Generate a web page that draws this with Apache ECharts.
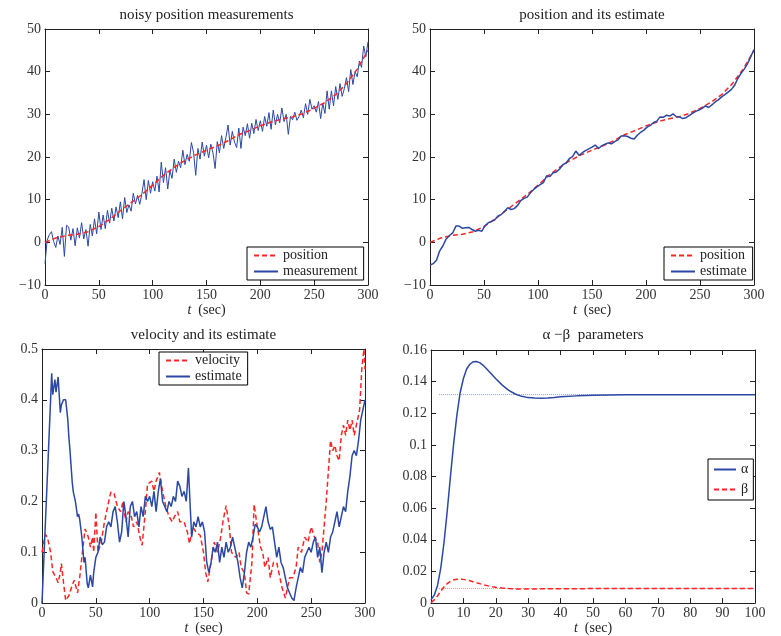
<!DOCTYPE html>
<html><head><meta charset="utf-8">
<script src="https://cdn.jsdelivr.net/npm/echarts@6/dist/echarts.min.js"></script>
<style>html,body{margin:0;padding:0;background:#fff}#c{width:781px;height:636px}</style>
</head><body><div id="c"></div>
<script>
// ---------- data ----------
const posT = [0,10,20,30,40,50,60,70,80,90,100,110,120,130,140,150,160,170,180,190,200,210,220,230,240,250,260,270,280,290,300];
const posV = [0,1.0,1.6,1.9,2.5,3.7,5.4,7.4,9.3,11.2,13.4,15.7,17.6,19.2,20.5,21.6,22.6,23.8,25.2,26.2,27.3,28.2,28.9,29.4,30.2,31.4,32.8,34.6,37.2,40.6,45];

const measT = [0,2,4,6,8,10,12,14,16,18,20,22,24,26,28,30,32,34,36,38,40,42,44,46,48,50,52,54,56,58,60,62,64,66,68,70,72,74,76,78,80,82,84,86,88,90,92,94,96,98,100,102,104,106,108,110,112,114,116,118,120,122,124,126,128,130,132,134,136,138,140,142,144,146,148,150,152,154,156,158,160,162,164,166,168,170,172,174,176,178,180,182,184,186,188,190,192,194,196,198,200,202,204,206,208,210,212,214,216,218,220,222,224,226,228,230,232,234,236,238,240,242,244,246,248,250,252,254,256,258,260,262,264,266,268,270,272,274,276,278,280,282,284,286,288,290,292,294,296,298,300];
const measV = [-5,0.5,1.8,2.5,0.2,-1.2,1.5,-0.5,3.5,-3.3,
 4.0,3.6,0.5,3.2,-0.8,3.4,1.0,4.6,0.8,3.0,
 -0.9,4.2,1.5,5.5,2.0,7.1,3.0,6.4,3.2,7.5,
 4.5,8.0,5.0,8.3,5.8,9.5,5.5,10.5,7.0,8.8,
 7.3,11.5,9.0,11.0,8.9,11.4,14.7,10.0,14.5,11.5,
 14.2,12.0,15.5,11.8,18.8,14.0,17.5,12.5,16.8,15.0,
 19.5,16.4,19.0,17.5,21.6,18.2,20.6,19.0,23.4,21.0,
 15.7,22.0,19.5,23.5,20.2,22.8,19.8,23.0,21.0,17.3,
 23.6,21.0,25.0,22.0,24.5,27.5,22.8,26.0,23.5,22.2,
 26.8,22.0,27.0,25.0,27.8,24.4,27.9,25.5,28.8,26.2,
 28.5,26.0,29.5,27.2,30.4,26.5,31.0,27.5,30.0,28.0,
 31.5,28.3,30.0,25.3,29.5,28.7,30.5,28.6,29.5,31.0,
 29.2,32.5,30.0,33.5,31.2,32.0,30.5,33.0,29.0,32.6,
 30.2,35.5,31.2,35.5,32.0,36.5,33.5,37.2,34.2,36.0,
 38.6,35.3,40.5,37.0,40.0,38.8,42.5,41.0,46.0,43.5,
 47.0];

const estT = [0,3,6,9,12,15,18,21,24,27,30,33,36,39,42,45,48,51,54,57,60,63,66,69,72,75,78,81,84,87,90,93,96,99,102,105,108,111,114,117,120,123,126,129,132,135,138,141,144,147,150,153,156,159,162,165,168,171,174,177,180,183,186,189,192,195,198,201,204,207,210,213,216,219,222,225,228,231,234,237,240,243,246,249,252,255,258,261,264,267,270,273,276,279,282,285,288,291,294,297,300];
const estV = [-5.3,-5.0,-4.2,-2.0,-0.8,0.8,1.6,2.2,3.8,3.8,
 3.3,3.4,3.5,3.0,2.6,2.8,2.6,3.9,4.6,4.9,
 5.3,6.2,6.5,7.3,8.1,7.7,7.9,8.6,9.8,10.3,
 10.6,11.6,12.4,13.0,13.5,14.0,15.6,15.4,16.3,16.5,
 17.2,18.2,18.6,19.6,20.1,21.4,20.4,21.0,21.5,21.9,
 22.3,22.8,22.0,22.6,23.0,23.3,23.1,23.6,24.0,24.9,
 25.0,24.8,24.4,24.2,25.1,25.8,26.3,27.0,27.4,28.1,
 28.4,29.4,29.3,29.8,29.6,30.1,29.5,29.4,29.0,29.2,
 29.7,30.2,30.7,31.0,31.4,32.0,31.6,32.2,32.9,33.4,
 34.1,34.6,35.2,35.8,36.8,38.4,39.6,40.6,41.9,43.5,
 45.2];

const velT = [0,3,5,8,10,13,15,17,18,20,22,25,28,30,33,35,37,40,43,45,47,48,50,52,55,58,62,64,67,70,73,75,78,80,83,85,88,92,93,96,98,102,104,106,109,112,115,118,121,123,126,128,132,135,137,140,143,147,150,152,154,157,160,163,166,168,171,174,176,180,183,185,188,190,192,195,197,200,203,205,207,210,212,215,218,220,223,226,228,230,233,236,238,241,244,247,250,253,256,258,260,262,264,266,268,270,272,274,276,278,280,282,284,286,288,290,292,295,297,299,300];
const velV = [0.1,0.135,0.13,0.1,0.062,0.05,0.04,0.06,0.078,0.04,0.005,0.015,0.035,0.045,0.02,0.05,0.09,0.146,0.13,0.11,0.13,0.1,0.179,0.1,0.12,0.16,0.2,0.219,0.215,0.19,0.18,0.198,0.16,0.18,0.17,0.15,0.16,0.12,0.114,0.18,0.234,0.24,0.22,0.24,0.257,0.22,0.19,0.17,0.16,0.17,0.18,0.16,0.16,0.14,0.117,0.15,0.14,0.133,0.1,0.06,0.042,0.08,0.12,0.1,0.13,0.16,0.192,0.15,0.1,0.09,0.1,0.07,0.06,0.02,0.018,0.08,0.194,0.15,0.11,0.1,0.07,0.09,0.05,0.08,0.08,0.06,0.03,0.01,0.03,0.05,0.05,0.07,0.11,0.1,0.13,0.12,0.15,0.13,0.12,0.08,0.1,0.15,0.2,0.26,0.32,0.3,0.31,0.29,0.28,0.33,0.35,0.33,0.36,0.34,0.36,0.33,0.35,0.38,0.46,0.5,0.46];

const vestT = [0,2,4,6,8,9,10,12,13,15,17,18,20,22,24,25,26,28,29,31,33,34,35,37,39,40,42,43,45,47,48,50,52,54,56,58,60,62,64,66,68,70,72,74,76,78,80,82,84,86,88,90,92,94,96,98,100,102,104,106,108,110,112,114,116,118,120,122,124,126,128,130,132,134,136,137,139,141,143,145,147,149,151,153,155,157,159,161,163,165,167,169,171,173,175,177,179,182,184,186,188,190,192,194,196,198,200,202,204,206,208,210,212,214,216,218,220,222,224,226,228,230,232,234,236,238,240,242,244,246,248,250,252,254,256,258,260,262,264,266,268,270,272,274,276,278,280,282,284,286,288,290,292,294,296,298,300];
const vestV = [0,0.1,0.2,0.3,0.4,0.452,0.41,0.44,0.415,0.445,0.375,0.39,0.4,0.4,0.36,0.325,0.3,0.24,0.22,0.2,0.17,0.175,0.165,0.13,0.08,0.09,0.038,0.03,0.055,0.032,0.06,0.09,0.1,0.13,0.115,0.12,0.15,0.16,0.15,0.18,0.19,0.16,0.12,0.14,0.2,0.17,0.13,0.19,0.2,0.17,0.18,0.15,0.19,0.17,0.21,0.2,0.21,0.19,0.22,0.18,0.22,0.245,0.2,0.19,0.18,0.2,0.19,0.21,0.2,0.24,0.23,0.21,0.22,0.2,0.266,0.22,0.13,0.16,0.15,0.17,0.15,0.16,0.14,0.08,0.06,0.08,0.11,0.1,0.12,0.08,0.11,0.09,0.12,0.1,0.11,0.13,0.11,0.08,0.05,0.03,0.06,0.1,0.12,0.11,0.13,0.155,0.15,0.14,0.15,0.17,0.19,0.16,0.145,0.15,0.12,0.09,0.11,0.08,0.07,0.05,0.03,0.02,0.01,0.005,0.03,0.05,0.07,0.06,0.09,0.1,0.11,0.1,0.12,0.13,0.09,0.11,0.06,0.1,0.12,0.1,0.13,0.14,0.16,0.18,0.15,0.17,0.19,0.18,0.22,0.25,0.29,0.3,0.29,0.32,0.36,0.38,0.4];

const abT = [0,1,2,3,4,5,6,7,8,9,10,11,12,13,14,15,16,17,18,19,20,22,24,26,28,30,32,34,36,38,40,45,50,55,60,70,80,90,100];
const alphaV = [0.002,0.005,0.011,0.022,0.038,0.058,0.08,0.101,0.119,0.133,0.142,0.148,0.151,0.1525,0.1527,0.152,0.1505,0.1485,0.1462,0.144,0.1418,0.1378,0.1345,0.1322,0.1307,0.1299,0.1296,0.1295,0.1297,0.13,0.1304,0.131,0.1314,0.1316,0.1317,0.1317,0.1317,0.1317,0.1317];
const betaV = [0.0003,0.002,0.0045,0.0075,0.0102,0.0123,0.0138,0.0147,0.0151,0.0152,0.015,0.0146,0.0141,0.0135,0.0129,0.0123,0.0117,0.0112,0.0107,0.0103,0.01,0.0095,0.0092,0.009,0.0089,0.0089,0.0089,0.009,0.009,0.009,0.0091,0.0091,0.0092,0.0092,0.0092,0.0092,0.0092,0.0092,0.0092];
const ssT = [2.5,100];
const alphaSS = [0.1318,0.1318];
const betaSS = [0.0092,0.0092];

const titles = ['noisy position measurements','position and its estimate','velocity and its estimate','\u03b1 \u2212\u03b2  parameters'];

// ---------- chart ----------
const FONT = 'Liberation Serif';
const BLUE = '#2b48a5', RED = '#ff2424', INK = '#222';
const grids = [
  {left:45, top:29, width:323, height:256},
  {left:430, top:29, width:324, height:256},
  {left:42, top:349, width:323, height:256},
  {left:431, top:350, width:324, height:255}
];
const xr = [[0,300,50],[0,300,50],[0,300,50],[0,100,10]];
const yr = [[-10,50,10],[-10,50,10],[0,0.5,0.1],[0,0.16,0.02]];
function zip(a,b){ return a.map((t,i)=>[t,b[i]]); }
function fmt(v){ return String(+(+v).toFixed(4)).replace('-','\u2212'); }

const xAxis = [], yAxis = [], title = [];
grids.forEach((g,i)=>{
  const common = {type:'value', gridIndex:i, splitLine:{show:false},
    axisLine:{show:true, onZero:false, lineStyle:{color:INK, width:1}},
    axisTick:{show:true, inside:true, length:5, lineStyle:{color:INK}}};
  xAxis.push(Object.assign({}, common, {position:'bottom', min:xr[i][0], max:xr[i][1], interval:xr[i][2],
    axisLabel:{margin:3, color:'#333', fontFamily:FONT, fontSize:14, formatter:fmt},
    name:'{i|t}  (sec)', nameLocation:'middle', nameGap:16,
    nameTextStyle:{fontFamily:FONT, fontSize:14, color:INK, rich:{i:{fontFamily:FONT, fontSize:14, fontStyle:'italic', color:INK}}}}));
  xAxis.push(Object.assign({}, common, {position:'top', min:xr[i][0], max:xr[i][1], interval:xr[i][2], axisLabel:{show:false}}));
  yAxis.push(Object.assign({}, common, {position:'left', min:yr[i][0], max:yr[i][1], interval:yr[i][2],
    axisLabel:{margin:4, color:'#333', fontFamily:FONT, fontSize:14, formatter:fmt}}));
  yAxis.push(Object.assign({}, common, {position:'right', min:yr[i][0], max:yr[i][1], interval:yr[i][2], axisLabel:{show:false}}));
  title.push({text:titles[i], left:g.left+g.width/2, top: i<2 ? 8 : 328, textAlign:'center', padding:0,
    textStyle:{fontFamily:FONT, fontSize:15, fontWeight:'normal', color:INK}});
});

function line(name, i, data, color, width, dash, z){
  return {type:'line', name, xAxisIndex:2*i, yAxisIndex:2*i, data, symbol:'none', showSymbol:false,
    lineStyle:{color, width, type: dash || 'solid'}, itemStyle:{color}, z: z||2, animation:false};
}
const DASH = [5,3];
const series = [
  line('measurement',0,zip(measT,measV),BLUE,1,null,2),
  line('position',0,zip(posT,posV),RED,1.5,DASH,3),
  line('position',1,zip(posT,posV),RED,1.5,DASH,2),
  line('estimate',1,zip(estT,estV),BLUE,1.5,null,3),
  line('velocity',2,zip(velT,velV),RED,1.5,DASH,2),
  line('estimate',2,zip(vestT,vestV),BLUE,1.5,null,3),
  line('ssA',3,zip(ssT,alphaSS),'#8a9ad0',1,'dotted',1),
  line('ssB',3,zip(ssT,betaSS),'#f08a8a',1,'dotted',1),
  line('\u03b1',3,zip(abT,alphaV),BLUE,1.5,null,3),
  line('\u03b2',3,zip(abT,betaV),RED,1.5,DASH,3)
];

function leg(data,left,top,extra){
  return Object.assign({data, left, top, orient:'vertical', selectedMode:false,
    borderColor:'#000', borderWidth:1, backgroundColor:'#fff', padding:[1,6,1,6], itemGap:1,
    itemWidth:24, itemHeight:10,
    itemStyle:{color:'rgba(0,0,0,0)', borderWidth:0, opacity:0},
    textStyle:{fontFamily:FONT, fontSize:14, color:INK, lineHeight:15}}, extra||{});
}
const legend = [
  leg(['position','measurement'],247,247),
  leg(['position','estimate'],664,247),
  leg(['velocity','estimate'],159,352),
  leg(['\u03b1','\u03b2'],708,459,{padding:[3,5,3,5], itemGap:5, itemWidth:22})
];

const chart = echarts.init(document.getElementById('c'), null, {renderer:'canvas'});
chart.setOption({animation:false, backgroundColor:'#fff', grid:grids, xAxis, yAxis, title, legend, series});
</script></body></html>
